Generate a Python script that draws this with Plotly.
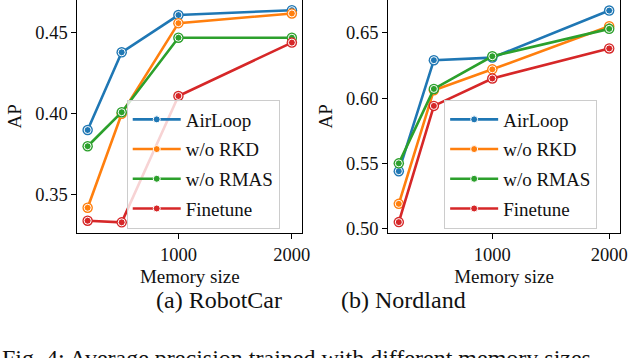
import plotly.graph_objects as go

MEMORY = [200, 500, 1000, 2000]
SERIES = ["AirLoop", "w/o RKD", "w/o RMAS", "Finetune"]
COLORS = ["#1f77b4", "#ff7f0e", "#2ca02c", "#d62728"]

# AP on RobotCar
ROBOTCAR = {
    "AirLoop": [0.390, 0.438, 0.461, 0.464],
    "w/o RKD": [0.342, 0.400, 0.456, 0.462],
    "w/o RMAS": [0.380, 0.401, 0.447, 0.447],
    "Finetune": [0.334, 0.333, 0.411, 0.444],
}
# AP on Nordland
NORDLAND = {
    "AirLoop": [0.544, 0.629, 0.631, 0.667],
    "w/o RKD": [0.519, 0.606, 0.622, 0.655],
    "w/o RMAS": [0.550, 0.607, 0.632, 0.653],
    "Finetune": [0.505, 0.594, 0.615, 0.638],
}

ROBOTCAR_TICKS = [0.35, 0.40, 0.45]
NORDLAND_TICKS = [0.50, 0.55, 0.60, 0.65]
X_TICKS = [1000, 2000]

SERIF = "Liberation Serif, Times New Roman, serif"
INK = "#111"

fig = go.Figure()


def add_panel(data, xa, ya, legend):
    for name, color in zip(SERIES, COLORS):
        # outer ring of the marker
        fig.add_trace(go.Scatter(
            x=MEMORY, y=data[name], mode="markers", xaxis=xa, yaxis=ya,
            marker=dict(size=10.5, color=color), showlegend=False,
            legendgroup=legend + name, legend=legend, hoverinfo="skip",
        ))
        fig.add_trace(go.Scatter(
            x=MEMORY, y=data[name], name=name, mode="lines+markers",
            xaxis=xa, yaxis=ya, legend=legend, legendgroup=legend + name,
            line=dict(color=color, width=2.6),
            marker=dict(size=7, color=color, line=dict(color="white", width=1)),
        ))


add_panel(ROBOTCAR, "x", "y", "legend")
add_panel(NORDLAND, "x2", "y2", "legend2")

axis_common = dict(
    showgrid=False, zeroline=False, showline=True, mirror=True,
    linecolor="black", linewidth=1.2, ticks="outside", ticklen=5,
    tickwidth=1.2, tickcolor="black", automargin=False,
    tickfont=dict(family=SERIF, size=18.5, color=INK),
)
title_font = dict(family=SERIF, size=19, color=INK)
legend_common = dict(
    yanchor="top", xanchor="left", y=0.722,
    bgcolor="rgba(255,255,255,0.8)", bordercolor="#cccccc", borderwidth=1,
    font=dict(family=SERIF, size=19, color=INK),
    tracegroupgap=2, traceorder="grouped", itemwidth=48,
)

fig.update_layout(
    font=dict(family=SERIF, size=18, color=INK),
    xaxis=dict(domain=[0.121, 0.472], range=[110, 2090], tickvals=X_TICKS,
               anchor="y", title=dict(text="Memory size", standoff=5, font=title_font),
               **axis_common),
    yaxis=dict(domain=[0.35, 1], range=[0.3266, 0.4703], tickvals=ROBOTCAR_TICKS,
               tickformat=".2f", anchor="x",
               title=dict(text="AP", standoff=8, font=title_font),
               **axis_common),
    xaxis2=dict(domain=[0.6067, 0.9683], range=[110, 2090], tickvals=X_TICKS,
                anchor="y2", title=dict(text="Memory size", standoff=5, font=title_font),
                **axis_common),
    yaxis2=dict(domain=[0.35, 1], range=[0.4969, 0.6751], tickvals=NORDLAND_TICKS,
                tickformat=".2f", anchor="x2",
                title=dict(text="AP", standoff=8, font=title_font),
                **axis_common),
    legend=dict(x=0.198, **legend_common),
    legend2=dict(x=0.694, **legend_common),
    width=640, height=358,
    margin=dict(l=0, r=0, t=0, b=0),
    plot_bgcolor="white", paper_bgcolor="white",
    showlegend=True,
)

cap_font = dict(family=SERIF, size=24, color=INK)
fig.add_annotation(text="(a) RobotCar", x=154 / 640, y=0.12, xref="paper", yref="paper",
                   showarrow=False, font=cap_font)
fig.add_annotation(text="(b) Nordland", x=468 / 640, y=0.12, xref="paper", yref="paper",
                   showarrow=False, font=cap_font)
fig.add_annotation(text="Fig. 4: Average precision trained with different memory sizes.",
                   x=0.0, y=0.0, xref="paper", yref="paper", xanchor="left",
                   yanchor="middle", showarrow=False, font=cap_font)

# the page body has a default 8px margin; drop it so the figure fills the window
fig.write_html("out.html", config={"displayModeBar": False},
               post_script="document.body.style.margin='0';")
